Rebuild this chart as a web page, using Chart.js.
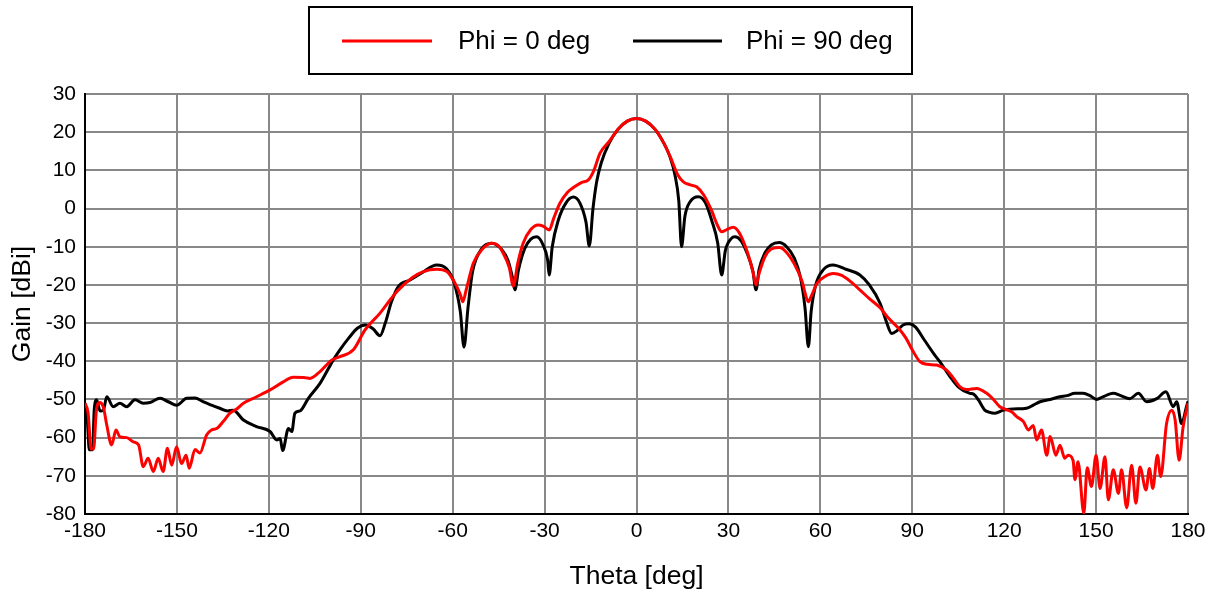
<!DOCTYPE html>
<html>
<head>
<meta charset="utf-8">
<script src="https://cdn.jsdelivr.net/npm/chart.js@4/dist/chart.umd.min.js"></script>
<style>
  html, body { margin: 0; padding: 0; background: #fff; }
  #wrap { width: 1215px; height: 590px; }
</style>
</head>
<body>
<div id="wrap"><canvas id="c" width="1215" height="590"></canvas></div>
<script>
const seriesLabels = ['Phi = 0 deg', 'Phi = 90 deg'];
const seriesColors = ['#ff0000', '#000000'];
const xTicks = [-180, -150, -120, -90, -60, -30, 0, 30, 60, 90, 120, 150, 180];
const yTicks = [30, 20, 10, 0, -10, -20, -30, -40, -50, -60, -70, -80];

const phi0Theta = [-180,-179,-178,-177.2,-176.3,-175.2,-174,-172.9,-171.3,-169.9,-168.6,-166.4,-164.2,-162.5,-161,-159.4,-157.7,-156.1,-154.5,-153.1,-151.7,-150.1,-148.5,-147,-146,-144.1,-142.5,-140.3,-138.7,-137,-134.9,-132.7,-130.5,-128.3,-124,-119.6,-115.3,-112,-108,-106.6,-103.3,-99.5,-96.8,-92.4,-88.6,-83.7,-80,-77.7,-73,-69.6,-65.2,-61.9,-59.2,-57.5,-56.7,-55.5,-53.3,-50.5,-47.3,-45,-43.5,-41.5,-40.2,-38.8,-37,-34.5,-32.1,-30.5,-28.5,-27,-25,-22.5,-20.6,-18,-15.7,-14,-11.9,-9,-6,-3,0,3,6,9,11,13.5,15.3,17.5,19.6,22,24.5,26.5,27.8,29.5,31.6,33.5,36,38,39,40,42,44,46.6,49,51.5,54,55.5,56.1,57,59,61.5,64.2,67,70,72.9,76,79.5,82,86,88,90,92.5,95,98,101.2,103.5,105.6,107.8,111,114.3,116.5,118.6,120.8,122.5,124.1,126.3,127.9,129.5,130.6,132.2,133.9,135,136.9,138.2,139.8,140.9,142.5,143.1,144.1,146,147.1,148.5,150,151.3,152.9,154,155.6,157.3,158.3,160,161.6,163,164.3,166.3,167.4,168.5,170,171.1,173,174.7,175.8,177.1,178.4,180];
const phi0Gain = [-51,-53.5,-63,-63,-53,-50.8,-52,-56.7,-61.9,-58,-59.8,-60,-61.1,-61.9,-67.6,-65.4,-68.9,-65.4,-68.9,-62.8,-67.2,-62.4,-66.8,-64.6,-68,-63.1,-64,-59.3,-58,-57.6,-55.8,-53.6,-52.5,-51,-49.3,-47.5,-45.4,-44.2,-44.3,-44.5,-42.7,-39.7,-38.8,-37,-31.8,-27.4,-23.5,-21.3,-18,-16.5,-15.9,-16.5,-19.6,-22.5,-24.4,-21,-14.4,-10.8,-9.1,-9.8,-11.7,-15.5,-20.3,-14.5,-9.1,-5.5,-4.3,-4.6,-5.6,-2.5,1.4,4.3,5.5,6.8,7.5,9.8,14.5,17.5,20.8,22.9,23.6,22.9,20.8,17,13.6,8.8,7,6.2,5.7,3.5,-0.5,-4.5,-6.1,-5.5,-4.9,-6.3,-11,-16.5,-20,-17,-12.5,-10.6,-10.2,-11.5,-14.5,-19,-23.5,-24.4,-23,-19.5,-17.8,-17,-17.5,-19.2,-21.3,-23.6,-26,-28.5,-31.8,-34,-37,-40.1,-40.8,-41,-42.3,-44.5,-46.7,-47.4,-47.1,-48.4,-50,-51.9,-52.7,-53.3,-54.5,-55.8,-58,-56.8,-60.6,-58,-64.6,-59.7,-64.6,-62,-65.4,-64.6,-66,-71,-66.3,-79.8,-67.9,-72.8,-64.6,-73.3,-65,-76.3,-68.4,-74.6,-68.4,-78.4,-67.2,-77.2,-67.7,-73.7,-68.1,-73.3,-64.6,-70.2,-56.3,-52.8,-55.4,-65.9,-57.2,-51];

const phi90Theta = [-180,-179.2,-178.6,-177.5,-177,-176.2,-175.1,-174,-172.9,-170.8,-168.6,-166.4,-163.7,-161,-158.8,-155.5,-152.8,-150.1,-146.8,-144.1,-141.5,-138.7,-136,-133.5,-131.6,-128.3,-124,-119.6,-117.4,-116.3,-115.5,-113.6,-112.5,-111.5,-109.8,-107.1,-103.3,-99,-96.8,-94,-91,-88.6,-86,-83.7,-82,-80,-77.8,-73.9,-70,-65.2,-62,-59.5,-57.5,-56.3,-55,-53.5,-50.5,-47.3,-44,-42,-40.5,-39.7,-38.5,-36.5,-34.5,-32.6,-30.5,-29,-28.5,-27.5,-25.5,-23,-20.6,-18.5,-16.5,-15.4,-14.2,-13,-11.5,-9,-6,-3,0,3,6,9,10.9,12.5,13.8,14.7,15.8,17.5,20.2,22.5,24.5,26.5,27.8,29,31,32.1,34,36,38,39,40,42,44,46.6,49,51.5,53.5,55,56.1,57,58.5,61,64.2,68,72.9,76,79.5,81.5,83.3,85,87,89,91,94,97,99,102.3,105,108.8,110,111.6,113.7,115,117,119.7,123,127.3,129.5,131.7,135,138.2,140.5,143.1,145.8,148,150.2,152,155.6,158,161,163.8,166.5,169.8,172.8,175.2,176.3,177.9,179.5,180];
const phi90Gain = [-51,-56,-63.2,-63.2,-52.8,-50.1,-53,-52.8,-49.3,-51.9,-51,-51.9,-50.1,-51,-50.8,-49.7,-50.6,-51.5,-49.7,-49.6,-50.6,-51.5,-52.3,-53,-52.8,-55.4,-57.1,-58.4,-60.6,-60.2,-63.4,-57.6,-58.4,-53.6,-53,-49.7,-45.8,-39.7,-37,-34,-31.3,-30.5,-31.5,-33.3,-30,-24.5,-20.5,-18.7,-16.8,-14.8,-15.8,-19.5,-27,-36.3,-26,-16.5,-10.5,-9.1,-10.7,-13.5,-18,-21.3,-16,-10.5,-8,-7.4,-9.5,-13.5,-17.4,-10,-3,1.5,3,1.5,-3.5,-9.8,0,7,12,17,20.8,22.9,23.6,22.9,20.8,17,13.6,9,2,-10,-2,1.8,3.1,1.5,-3,-9,-17.4,-11,-7.8,-7.4,-8.3,-11.5,-16.5,-21.3,-16,-11.5,-9.5,-8.9,-10,-13,-18,-26,-36.2,-27,-20,-16,-14.8,-15.8,-17.4,-20,-24.8,-29.5,-32.7,-32,-30.5,-30.2,-31,-34.5,-38,-40.1,-44,-46.7,-48.4,-48.6,-50.1,-52.8,-53.3,-53.6,-52.8,-52.5,-52.3,-51.5,-50.6,-50,-49.3,-49,-48.4,-48.4,-49,-50,-49.4,-48.4,-49,-49.8,-48.4,-50.6,-49.8,-48,-51.9,-50.6,-56.3,-51.9,-50.5];

function toPoints(xs, ys) { return xs.map((x, i) => ({ x: x, y: ys[i] })); }

const FONT = "'Liberation Sans', Arial, sans-serif";

const legendBox = {
  id: 'legendBox',
  afterDraw(chart) {
    const ctx = chart.ctx;
    ctx.save();
    ctx.strokeStyle = '#000';
    ctx.lineWidth = 2;
    ctx.strokeRect(309, 7, 603, 67);
    const items = [
      { x0: 342, x1: 432, tx: 458 },
      { x0: 633, x1: 722, tx: 746 }
    ];
    chart.data.datasets.forEach((ds, i) => {
      const it = items[i];
      ctx.strokeStyle = ds.borderColor;
      ctx.lineWidth = 3;
      ctx.beginPath();
      ctx.moveTo(it.x0, 41);
      ctx.lineTo(it.x1, 41);
      ctx.stroke();
      ctx.fillStyle = '#000';
      ctx.font = '26px ' + FONT;
      ctx.textBaseline = 'middle';
      ctx.textAlign = 'left';
      ctx.fillText(ds.label, it.tx, 42);
    });
    ctx.restore();
  }
};

new Chart(document.getElementById('c'), {
  type: 'line',
  data: {
    datasets: [
      { label: seriesLabels[0], data: toPoints(phi0Theta, phi0Gain), borderColor: seriesColors[0], borderWidth: 3, pointRadius: 0, cubicInterpolationMode: 'monotone', order: 1 },
      { label: seriesLabels[1], data: toPoints(phi90Theta, phi90Gain), borderColor: seriesColors[1], borderWidth: 3, pointRadius: 0, cubicInterpolationMode: 'monotone', order: 2 }
    ]
  },
  options: {
    responsive: false,
    animation: false,
    layout: { padding: { top: 94, right: 27, left: 0, bottom: 0 } },
    plugins: { legend: { display: false }, tooltip: { enabled: false } },
    scales: {
      x: {
        type: 'linear', min: -180, max: 180,
        afterBuildTicks(s) { s.ticks = xTicks.map(v => ({ value: v })); },
        afterFit(s) { s.height = 76; },
        ticks: { color: '#000', font: { family: FONT, size: 21 }, padding: 5, maxRotation: 0 },
        grid: { color: '#888', lineWidth: 2, drawTicks: false },
        border: { color: '#000', width: 2 },
        title: { display: true, text: 'Theta [deg]', color: '#000', font: { family: FONT, size: 26.5, lineHeight: 1 }, padding: { top: 0, bottom: 0 } }
      },
      y: {
        type: 'linear', min: -80, max: 30,
        afterBuildTicks(s) { s.ticks = yTicks.map(v => ({ value: v })); },
        afterFit(s) { s.width = 85; },
        ticks: { color: '#000', font: { family: FONT, size: 21 }, padding: 9 },
        grid: { color: '#888', lineWidth: 2, drawTicks: false },
        border: { color: '#000', width: 2 },
        title: { display: true, text: 'Gain [dBi]', color: '#000', font: { family: FONT, size: 26.5, lineHeight: 1 }, padding: { top: 9, bottom: 0 } }
      }
    }
  },
  plugins: [legendBox]
});
</script>
</body>
</html>
